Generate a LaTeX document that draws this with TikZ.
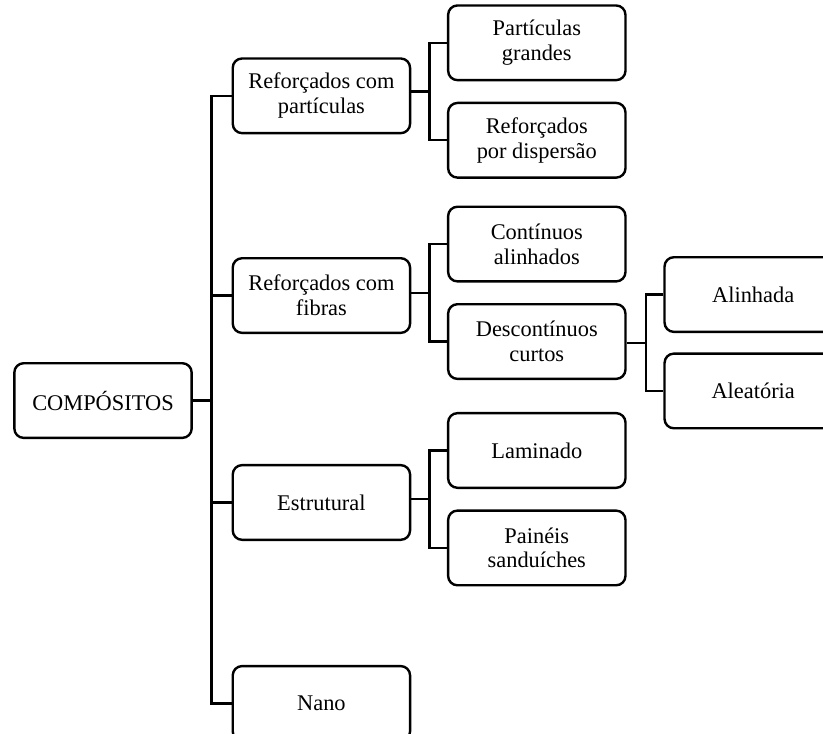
\documentclass[tikz,border=0pt]{standalone}
\usepackage{fontspec}
\setmainfont{Liberation Serif}
\usetikzlibrary{positioning, calc}
\tikzset{
  cp box/.style={
    rectangle, rounded corners=7pt, draw=black, line width=1.8pt,
    minimum width=133pt, minimum height=56pt,
    text centered, align=center,
    font=\fontsize{16.8}{18.5}\selectfont,
    inner sep=2pt
  },
  cp link/.style={
    draw=black, line width=1.8pt
  }
}

\begin{document}
\begin{tikzpicture}
  \path [use as bounding box, clip] (0,0) rectangle (617.25pt,-549.75pt);
  % Root
  \node (comp) [cp box] at (77.25pt,-300.4pt) {COMPÓSITOS};
  % Level 1
  \node (rfib) [cp box, right=29pt of comp, yshift=78.75pt] {Reforçados com\\fibras};
  \node (rpart) [cp box, above=92pt of rfib] {Reforçados com\\partículas};
  \node (estr) [cp box, below=97.4pt of rfib] {Estrutural};
  \node (nano) [cp box, below=92.9pt of estr] {Nano};
  % Level 2
  \node (pgr) [cp box, right=26.75pt of rpart, yshift=39.75pt] {Partículas\\grandes};
  \node (rdisp) [cp box, below=15.3pt of pgr] {Reforçados\\por dispersão};
  \node (cont) [cp box, right=26.75pt of rfib, yshift=38.6pt] {Contínuos\\alinhados};
  \node (desc) [cp box, below=15.3pt of cont] {Descontínuos\\curtos};
  \node (lam) [cp box, right=26.75pt of estr, yshift=39pt] {Laminado};
  \node (pain) [cp box, below=15.3pt of lam] {Painéis\\sanduíches};
  % Level 3
  \node (ali) [cp box, right=27.5pt of desc, yshift=35.25pt] {Alinhada};
  \node (alea) [cp box, below=14.5pt of ali] {Aleatória};

  % Root -> level 1
  \foreach \c in {rpart,rfib,estr,nano}
    \draw [cp link] (comp.east) -- ++(14pt,0) |- (\c.west);
  % Level 1 -> level 2, level 2 -> level 3
  \foreach \p/\a/\b in {rpart/pgr/rdisp, rfib/cont/desc, estr/lam/pain, desc/ali/alea} {
    \coordinate (\p-j) at ($(\a.west)!0.5!(\b.west)+(-13pt,0)$);
    \draw [cp link] (\a.west) -- ++(-13pt,0) |- (\b.west);
    \draw [cp link] (\p-j -| \p.east) -- (\p-j);
  }
\end{tikzpicture}
\end{document}
